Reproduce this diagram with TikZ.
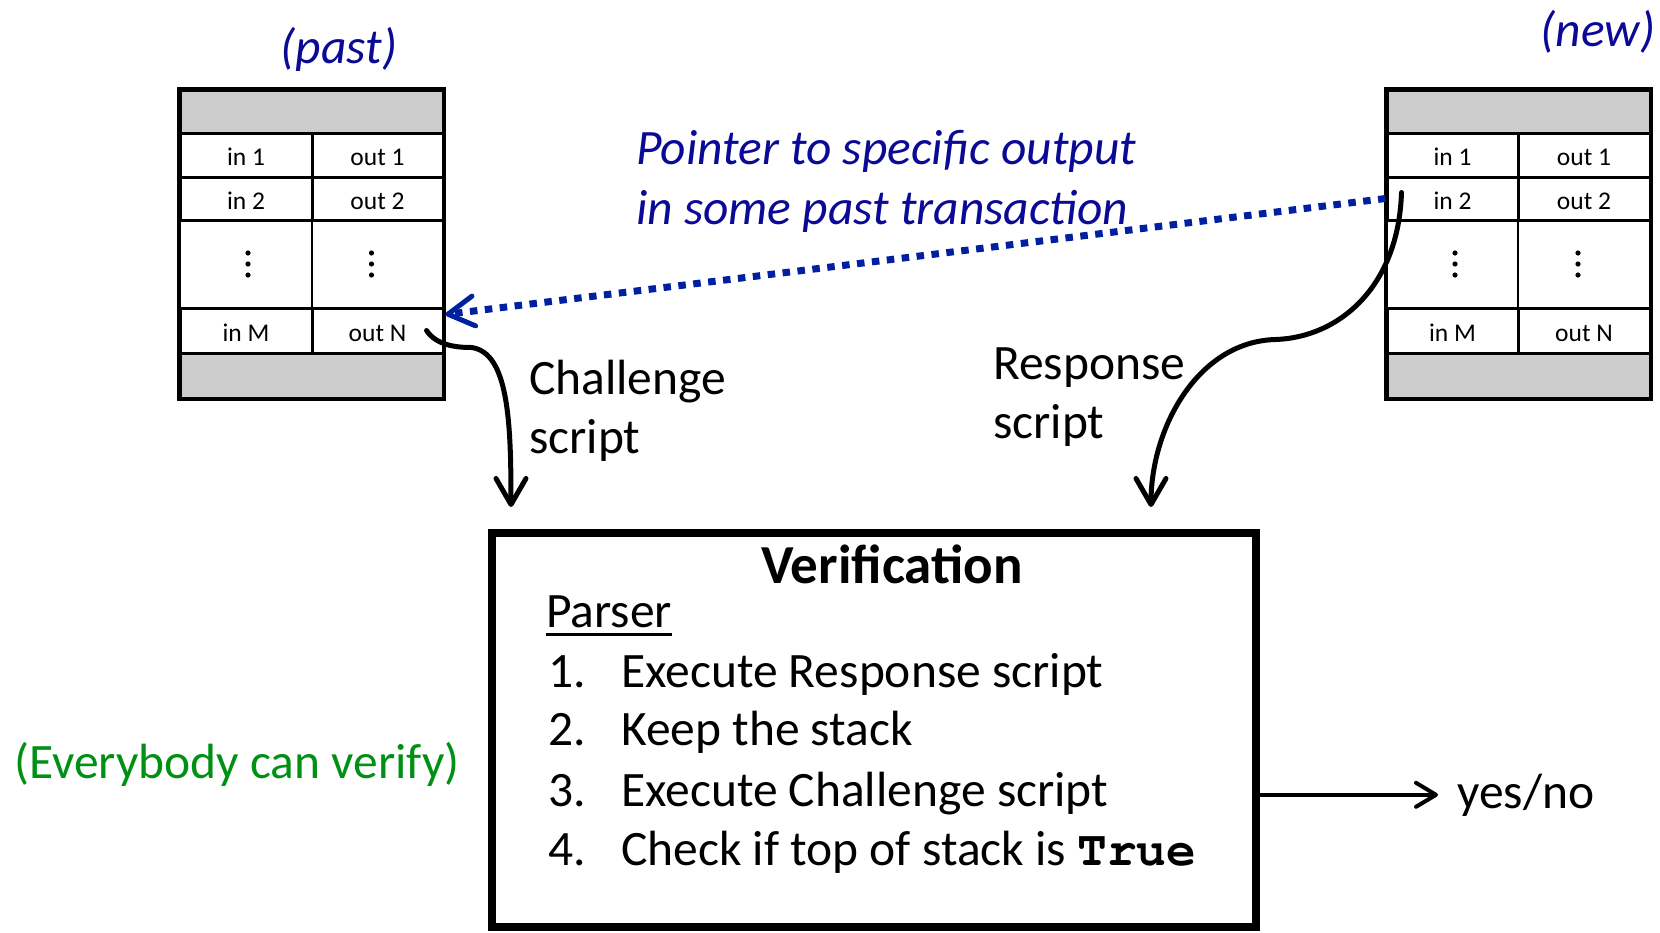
\documentclass[tikz,border=0pt]{standalone}
\usepackage[T1]{fontenc}
\usepackage{fontspec}
\setmainfont{Carlito}
\setmonofont{Liberation Mono}
\usetikzlibrary{arrows.meta,calc}
\definecolor{txblue}{RGB}{10,10,150}
\definecolor{lnblue}{RGB}{0,32,160}
\definecolor{cellgray}{RGB}{204,204,204}
\definecolor{okgreen}{RGB}{0,145,20}
\newcommand{\courb}[1]{{\usefont{T1}{pcr}{b}{n}#1}}
\tikzset{
  hdr/.style={draw, line width=3pt, fill=cellgray, minimum width=263pt, inner sep=0pt},
  cell/.style={draw, line width=3pt, fill=white, inner sep=0pt, text height=21.5pt, text depth=0pt, font=\fontsize{25.5}{30}\selectfont},
  dotcell/.style={draw, line width=1.2pt, fill=white, inner sep=0pt, minimum height=88pt},
  lbl/.style={inner sep=0pt, anchor=base west, font=\fontsize{49.5}{58}\selectfont},
  ilbl/.style={lbl, txblue, font=\fontsize{49.5}{58}\selectfont\itshape},
  conn/.style={line width=5pt, line cap=round, -{Straight Barb[length=26pt,width=30pt,round]}},
  ptr/.style={line width=7pt, lnblue, dash pattern=on 7.5pt off 7.5pt, -{Straight Barb[length=26pt,width=30pt,round,line width=5pt]}},
  vdot/.style={fill=black}
}
\begin{document}
\begin{tikzpicture}[x=1pt,y=-1pt]
\useasboundingbox (0,0) rectangle (1660,932);

% ---------- left (past) transaction ----------
\node[dotcell, minimum width=132pt] (L-dl) at (246,264) {};
\node[dotcell, minimum width=131pt] (L-dr) at (377.5,264) {};
\node[hdr, minimum height=43pt] (L-top) at (311.5,111.5) {};
\node[cell, minimum width=132pt, minimum height=44pt] (L-in1) at (246,155) {in 1};
\node[cell, minimum width=131pt, minimum height=44pt] (L-out1) at (377.5,155) {out 1};
\node[cell, minimum width=132pt, minimum height=43pt] (L-in2) at (246,198.5) {in 2};
\node[cell, minimum width=131pt, minimum height=43pt] (L-out2) at (377.5,198.5) {out 2};
\node[cell, minimum width=132pt, minimum height=45pt] (L-inM) at (246,330.5) {in M};
\node[cell, minimum width=131pt, minimum height=45pt] (L-outN) at (377.5,330.5) {out N};
\node[hdr, minimum height=45pt] (L-bot) at (311.5,375.5) {};
\draw[line width=3pt] (L-top.north west) rectangle (L-bot.south east);
\foreach \d in {-11,0,11} {
  \fill[vdot] ($(L-dl.center)+(2,\d)$) circle (2.6);
  \fill[vdot] ($(L-dr.center)+(-6,\d)$) circle (2.6);
}

% ---------- right (new) transaction ----------
\node[dotcell, minimum width=131pt] (R-dl) at (1452.5,264) {};
\node[dotcell, minimum width=132pt] (R-dr) at (1584,264) {};
\node[hdr, minimum height=43pt] (R-top) at (1518.5,111.5) {};
\node[cell, minimum width=131pt, minimum height=44pt] (R-in1) at (1452.5,155) {in 1};
\node[cell, minimum width=132pt, minimum height=44pt] (R-out1) at (1584,155) {out 1};
\node[cell, minimum width=131pt, minimum height=43pt] (R-in2) at (1452.5,198.5) {in 2};
\node[cell, minimum width=132pt, minimum height=43pt] (R-out2) at (1584,198.5) {out 2};
\node[cell, minimum width=131pt, minimum height=45pt] (R-inM) at (1452.5,330.5) {in M};
\node[cell, minimum width=132pt, minimum height=45pt] (R-outN) at (1584,330.5) {out N};
\node[hdr, minimum height=45pt] (R-bot) at (1518.5,375.5) {};
\draw[line width=3pt] (R-top.north west) rectangle (R-bot.south east);
\foreach \d in {-11,0,11} {
  \fill[vdot] ($(R-dl.center)+(2.5,\d)$) circle (2.6);
  \fill[vdot] ($(R-dr.center)+(-6,\d)$) circle (2.6);
}

% ---------- labels ----------
\node[ilbl, anchor=base] (past) at (339,63) {(past)};
\node[ilbl, anchor=base] (new) at (1598,46) {(new)};
\node[ilbl] (ptr1) at (636,164) {Pointer to specific output};
\node[ilbl] (ptr2) at (636,224) {in some past transaction};
\node[lbl] (chal1) at (529,394) {Challenge};
\node[lbl] (chal2) at (529,453) {script};
\node[lbl] (resp1) at (993,379) {Response};
\node[lbl] (resp2) at (993,438) {script};
\node[lbl, okgreen] (every) at (14,778) {(Everybody can verify)};

% ---------- verification box ----------
\node[draw, line width=8pt, minimum width=764pt, minimum height=394pt, inner sep=0pt] (verif) at (874,730) {};
\node[lbl, anchor=base, font=\fontsize{55}{64}\selectfont\bfseries] (vtitle) at (892,583) {Verification};
\node[lbl] (parser) at (546,627) {Parser};
\draw[line width=3pt] ($(parser.base west)+(0,7)$) -- ($(parser.base east)+(0,7)$);
\node[lbl] (n1) at (548,687) {1.};
\node[lbl] (s1) at (621,687) {Execute Response script};
\node[lbl] (n2) at (548,745) {2.};
\node[lbl] (s2) at (621,745) {Keep the stack};
\node[lbl] (n3) at (548,806) {3.};
\node[lbl] (s3) at (621,806) {Execute Challenge script};
\node[lbl] (n4) at (548,865) {4.};
\node[lbl] (s4) at (621,865) {Check if top of stack is \courb{True}};

\node[lbl] (yes) at (1457,808) {yes/no};

% ---------- connectors ----------
\coordinate (ptrEnd) at ($(L-outN.north east)+(1,8)$);
\draw[ptr] (R-in2.west) -- (ptrEnd);

\coordinate (chStart) at ($(L-outN.east)+(-18,0)$);
\coordinate (chEnd) at ($(verif.north west)+(23,-22)$);
\draw[conn] (chStart) .. controls ($(chStart)+(10,15)$) and ($(chStart)+(30,17)$) .. ($(chStart)+(45,17)$)
  .. controls ($(chStart)+(82,22)$) and ($(chEnd)+(0,-85)$) .. (chEnd);

\coordinate (rsStart) at ($(R-in2.west)+(16,-6)$);
\coordinate (rsEnd) at ($(verif.north west)+(663,-22)$);
\draw[conn] (rsStart) .. controls ($(rsStart)+(-3,95)$) and ($(rsStart)+(-63,145)$) .. ($(rsStart)+(-126,147)$)
  .. controls ($(rsStart)+(-203,149)$) and ($(rsEnd)+(0,-80)$) .. (rsEnd);

\coordinate (ynEnd) at ($(yes.west)+(-19,0)$);
\draw[line width=4pt, -{Straight Barb[length=20pt,width=24pt,round]}] (verif.east |- ynEnd) -- (ynEnd);
\end{tikzpicture}
\end{document}
